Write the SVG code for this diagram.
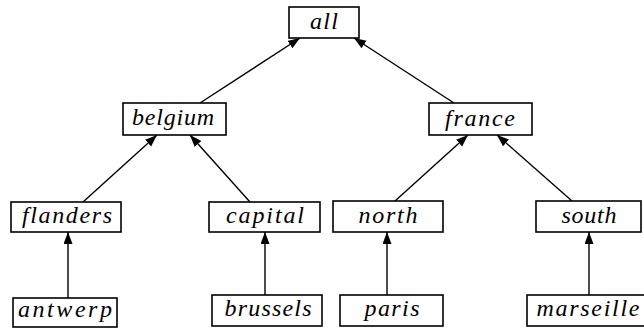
<svg xmlns="http://www.w3.org/2000/svg" width="644" height="329" viewBox="0 0 644 329">
<style>
.box{fill:#fff;stroke:#000;stroke-width:1.6}
.edge{stroke:#000;stroke-width:1.4;fill:none;marker-end:url(#ah)}
</style>
<defs>
<marker id="ah" markerUnits="userSpaceOnUse" markerWidth="13" markerHeight="10" refX="12" refY="4.5" orient="auto">
<path d="M0,0 L12,4.5 L0,9 z" fill="#000"/>
</marker>
</defs>
<rect width="644" height="329" fill="#fff"/>
<g id="connectors">
<line class="edge" x1="200" y1="103" x2="300" y2="38"/>
<line class="edge" x1="454" y1="103" x2="354" y2="38"/>
<line class="edge" x1="83" y1="202" x2="157" y2="135"/>
<line class="edge" x1="250" y1="202" x2="190" y2="135"/>
<line class="edge" x1="395" y1="201" x2="468" y2="135"/>
<line class="edge" x1="572" y1="201" x2="497" y2="135"/>
<line class="edge" x1="68" y1="298" x2="68" y2="232"/>
<line class="edge" x1="265" y1="295" x2="265" y2="232"/>
<line class="edge" x1="387" y1="295" x2="387" y2="232"/>
<line class="edge" x1="589" y1="295" x2="589" y2="232"/>
</g>
<g font-family="Liberation Serif, DejaVu Serif, serif" font-style="italic" font-size="24" text-anchor="middle" fill="#000">
<g id="all"><rect class="box" x="289" y="7" width="70" height="31"/><text x="324" y="29" textLength="28" lengthAdjust="spacing">all</text></g>
<g id="belgium"><rect class="box" x="123" y="103" width="103" height="32"/><text x="173" y="125" textLength="82" lengthAdjust="spacing">belgium</text></g>
<g id="france"><rect class="box" x="429" y="103" width="103" height="32"/><text x="480" y="126" textLength="70" lengthAdjust="spacing">france</text></g>
<g id="flanders"><rect class="box" x="11" y="202" width="110" height="30"/><text x="67" y="223" textLength="90" lengthAdjust="spacing">flanders</text></g>
<g id="capital"><rect class="box" x="209" y="202" width="111" height="30"/><text x="265" y="223" textLength="78" lengthAdjust="spacing">capital</text></g>
<g id="north"><rect class="box" x="333" y="201" width="110" height="31"/><text x="388" y="223" textLength="59" lengthAdjust="spacing">north</text></g>
<g id="south"><rect class="box" x="536" y="201" width="105" height="31"/><text x="589" y="223" textLength="55" lengthAdjust="spacing">south</text></g>
<g id="antwerp"><rect class="box" x="13" y="298" width="104" height="29"/><text x="65" y="317" textLength="94" lengthAdjust="spacing">antwerp</text></g>
<g id="brussels"><rect class="box" x="212" y="295" width="110" height="31"/><text x="268" y="316" textLength="87" lengthAdjust="spacing">brussels</text></g>
<g id="paris"><rect class="box" x="340" y="295" width="103" height="31"/><text x="392" y="316" textLength="55" lengthAdjust="spacing">paris</text></g>
<g id="marseille"><rect class="box" x="527" y="295" width="125" height="31"/><text x="588" y="316" textLength="103" lengthAdjust="spacing">marseille</text></g>
</g>
</svg>
